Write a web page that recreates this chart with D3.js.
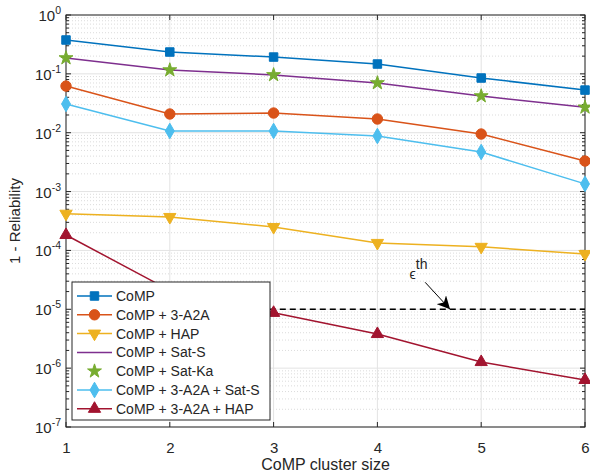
<!DOCTYPE html>
<html>
<head>
<meta charset="utf-8">
<script src="https://cdn.jsdelivr.net/npm/d3@7"></script>
<style>
  body { margin: 0; background: #fff; }
  text { font-family: "Liberation Sans", Arial, sans-serif; fill: #262626; }
</style>
</head>
<body>
<div id="chart"></div>
<script>
// cluster sizes
var clusterSize = [1, 2, 3, 4, 5, 6];

// 1 - reliability per scheme
var comp        = [0.376, 0.235, 0.193, 0.147, 0.085, 0.053];
var compA2A     = [0.062, 0.0208, 0.0216, 0.0171, 0.0095, 0.0033];
var compHAP     = [4.2e-4, 3.7e-4, 2.5e-4, 1.34e-4, 1.15e-4, 8.7e-5];
var compSatS    = [0.186, 0.116, 0.096, 0.070, 0.042, 0.027];
var compSatKa   = [0.186, 0.116, 0.096, 0.070, 0.042, 0.027];
var compA2ASatS = [0.0308, 0.0107, 0.0107, 0.0088, 0.0047, 0.00135];
var compA2AHAP  = [1.83e-4, 2.1e-5, 8.7e-6, 3.8e-6, 1.27e-6, 6.3e-7];

var seriesNames = ["CoMP", "CoMP + 3-A2A", "CoMP + HAP", "CoMP + Sat-S",
                   "CoMP + Sat-Ka", "CoMP + 3-A2A + Sat-S", "CoMP + 3-A2A + HAP"];
var epsTh = 1e-5;
var yTicks = [1e-7, 1e-6, 1e-5, 1e-4, 1e-3, 1e-2, 1e-1, 1];

var series = [
  {name: seriesNames[0], vals: comp,        color: "#0072BD", marker: "square",   line: true},
  {name: seriesNames[1], vals: compA2A,     color: "#D95319", marker: "circle",   line: true},
  {name: seriesNames[2], vals: compHAP,     color: "#EDB120", marker: "tridown",  line: true},
  {name: seriesNames[3], vals: compSatS,    color: "#7E2F8E", marker: null,       line: true},
  {name: seriesNames[4], vals: compSatKa,   color: "#77AC30", marker: "star",     line: false},
  {name: seriesNames[5], vals: compA2ASatS, color: "#4DBEEE", marker: "diamond",  line: true},
  {name: seriesNames[6], vals: compA2AHAP,  color: "#A2142F", marker: "triup",    line: true}
];

var width = 590, height = 474;
var margin = {left: 66, right: 5, top: 15, bottom: 47};

var svg = d3.select("#chart").append("svg")
  .attr("width", width).attr("height", height);

var x = d3.scaleLinear().domain([1, 6]).range([margin.left, width - margin.right]);
var y = d3.scaleLog().domain([1e-7, 1]).range([height - margin.bottom, margin.top]);

var x0 = margin.left, x1 = width - margin.right;
var y0 = height - margin.bottom, y1 = margin.top;

// minor grid (dotted)
var minor = [];
yTicks.slice(0, -1).forEach(function(t) {
  for (var k = 2; k <= 9; k++) minor.push(t * k);
});
svg.append("g").selectAll("line").data(minor).enter().append("line")
  .attr("x1", x0).attr("x2", x1)
  .attr("y1", function(d) { return y(d); }).attr("y2", function(d) { return y(d); })
  .style("stroke", "#d2d2d2").style("stroke-width", 0.8).style("stroke-dasharray", "1,2");

// major grid
svg.append("g").selectAll("line").data(yTicks).enter().append("line")
  .attr("x1", x0).attr("x2", x1)
  .attr("y1", function(d) { return y(d); }).attr("y2", function(d) { return y(d); })
  .style("stroke", "#e3e3e3").style("stroke-width", 1);
svg.append("g").selectAll("line").data(clusterSize).enter().append("line")
  .attr("y1", y0).attr("y2", y1)
  .attr("x1", function(d) { return x(d); }).attr("x2", function(d) { return x(d); })
  .style("stroke", "#e3e3e3").style("stroke-width", 1);

// axes
var xAxis = d3.axisBottom(x).tickValues(clusterSize).tickFormat(d3.format("d"))
  .tickSize(0).tickPadding(15);
svg.append("g").attr("transform", "translate(0," + y0 + ")").call(xAxis)
  .call(function(g) { g.select(".domain").remove(); })
  .selectAll("text").style("font-size", "15px").attr("fill", "#262626");

var yAxis = d3.axisLeft(y).tickValues(yTicks).tickFormat("").tickSize(0);
svg.append("g").attr("transform", "translate(" + x0 + ",0)").call(yAxis)
  .call(function(g) { g.select(".domain").remove(); });

// y tick labels 10^n
var ylab = svg.append("g").selectAll("text").data(yTicks).enter().append("text")
  .attr("x", x0 - 5).attr("y", function(d) { return y(d) + 6; })
  .attr("text-anchor", "end").style("font-size", "15px");
ylab.append("tspan").text("10");
ylab.append("tspan").attr("dy", -7).style("font-size", "10.5px")
  .text(function(d) { var e = Math.round(Math.log10(d)); return e === 0 ? "0" : "-" + (-e); });

// ticks inside the box
var tickG = svg.append("g").style("stroke", "#262626").style("stroke-width", 1);
clusterSize.forEach(function(d) {
  tickG.append("line").attr("x1", x(d)).attr("x2", x(d)).attr("y1", y0).attr("y2", y0 - 5);
  tickG.append("line").attr("x1", x(d)).attr("x2", x(d)).attr("y1", y1).attr("y2", y1 + 5);
});
yTicks.forEach(function(d) {
  tickG.append("line").attr("x1", x0).attr("x2", x0 + 5).attr("y1", y(d)).attr("y2", y(d));
  tickG.append("line").attr("x1", x1).attr("x2", x1 - 5).attr("y1", y(d)).attr("y2", y(d));
});
minor.forEach(function(d) {
  tickG.append("line").attr("x1", x0).attr("x2", x0 + 3).attr("y1", y(d)).attr("y2", y(d));
  tickG.append("line").attr("x1", x1).attr("x2", x1 - 3).attr("y1", y(d)).attr("y2", y(d));
});

// box
svg.append("rect").attr("x", x0).attr("y", y1).attr("width", x1 - x0).attr("height", y0 - y1)
  .style("fill", "none").style("stroke", "#262626").style("stroke-width", 1);

// threshold
svg.append("line")
  .attr("x1", x(2)).attr("x2", x1)
  .attr("y1", y(epsTh)).attr("y2", y(epsTh))
  .style("stroke", "#000").style("stroke-width", 1.5).style("stroke-dasharray", "6,4");

// markers
function markerPath(type) {
  var s = {
    square: d3.symbol(d3.symbolSquare, 72),
    circle: d3.symbol(d3.symbolCircle, 85),
    diamond: d3.symbol(d3.symbolDiamond, 70),
    star: d3.symbol(d3.symbolStar, 60),
    triup: d3.symbol(d3.symbolTriangle, 65),
    tridown: d3.symbol(d3.symbolTriangle, 65)
  };
  return s[type]();
}

var line = d3.line()
  .x(function(d, i) { return x(clusterSize[i]); })
  .y(function(d) { return y(d); });

series.forEach(function(s) {
  if (s.line) {
    svg.append("path").datum(s.vals).attr("d", line)
      .style("fill", "none").style("stroke", s.color).style("stroke-width", 1.5);
  }
  if (s.marker) {
    svg.append("g").selectAll("path").data(s.vals).enter().append("path")
      .attr("d", markerPath(s.marker))
      .attr("transform", function(d, i) {
        return "translate(" + x(clusterSize[i]) + "," + y(d) + ")" + (s.marker === "tridown" ? " rotate(180)" : "");
      })
      .style("fill", s.color).style("stroke", s.color);
  }
});

// annotation
svg.append("defs").append("marker").attr("id", "arr")
  .attr("viewBox", "0 0 10 10").attr("refX", 10).attr("refY", 5)
  .attr("markerWidth", 13).attr("markerHeight", 13).attr("orient", "auto")
  .attr("markerUnits", "userSpaceOnUse")
  .append("path").attr("d", "M0,0 L10,5 L0,10 L3,5 Z").style("fill", "#000");
svg.append("line")
  .attr("x1", x(4.46)).attr("y1", y(epsTh) - 27)
  .attr("x2", x(4.7)).attr("y2", y(epsTh))
  .style("stroke", "#000").style("stroke-width", 1).attr("marker-end", "url(#arr)");
var ann = svg.append("text").attr("x", x(4.31)).attr("y", y(epsTh) - 30).style("font-size", "14px");
ann.append("tspan").text("\u03f5");
ann.append("tspan").attr("dy", -10).style("font-size", "14px").text("th");

// legend
var lg = svg.append("g").attr("transform", "translate(72,282)");
lg.append("rect").attr("width", 198).attr("height", 138)
  .style("fill", "#fff").style("stroke", "#262626").style("stroke-width", 1);
series.forEach(function(s, i) {
  var yy = 14 + i * 18.8;
  if (s.line) {
    lg.append("line").attr("x1", 5).attr("x2", 40).attr("y1", yy).attr("y2", yy)
      .style("stroke", s.color).style("stroke-width", 1.5);
  }
  if (s.marker) {
    lg.append("path").attr("d", markerPath(s.marker))
      .attr("transform", "translate(22.5," + yy + ")" + (s.marker === "tridown" ? " rotate(180)" : ""))
      .style("fill", s.color).style("stroke", s.color);
  }
  lg.append("text").attr("x", 44).attr("y", yy + 5).style("font-size", "14px").text(s.name);
});

// axis labels
svg.append("text").attr("x", (x0 + x1) / 2).attr("y", 470)
  .attr("text-anchor", "middle").style("font-size", "16px").text("CoMP cluster size");
svg.append("text").attr("transform", "translate(20," + ((y0 + y1) / 2) + ") rotate(-90)")
  .attr("text-anchor", "middle").style("font-size", "15px").text("1 - Reliability");
</script>
</body>
</html>
